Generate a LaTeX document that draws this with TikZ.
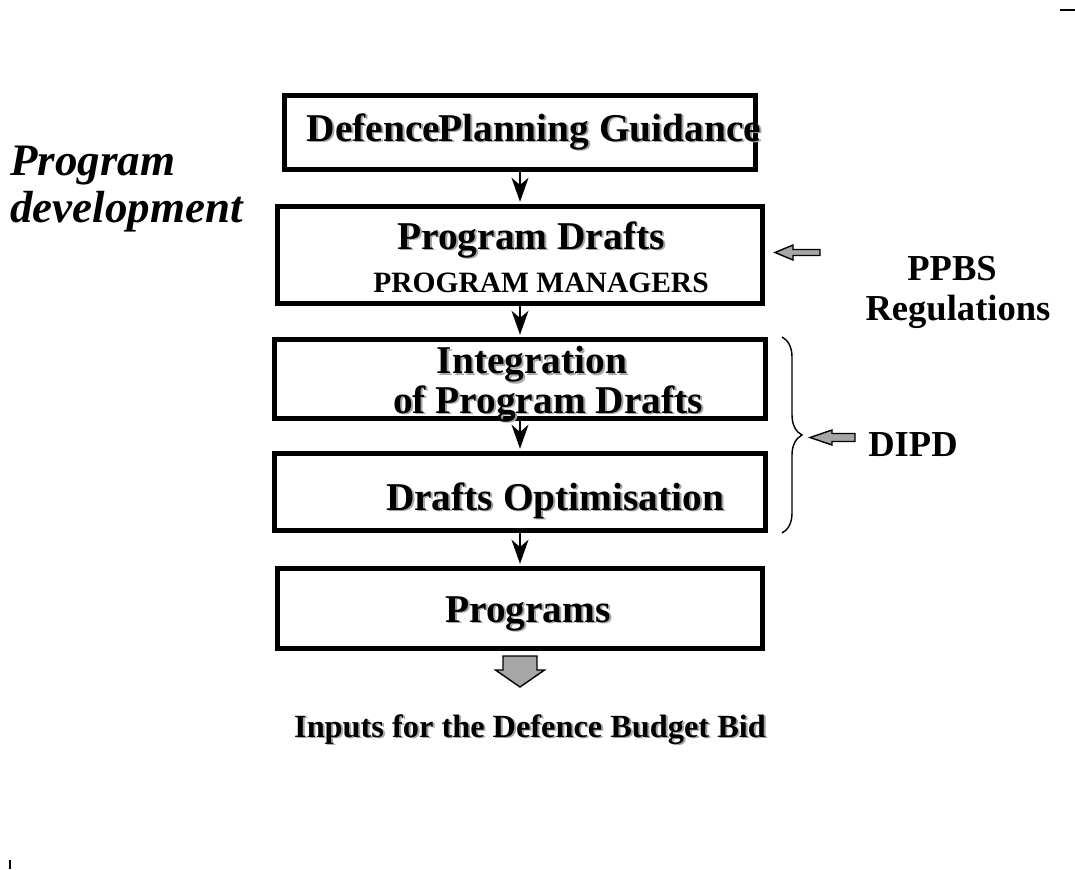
\documentclass[tikz,border=0pt]{standalone}
\usepackage{fontspec}
\setmainfont{Liberation Serif}
\usetikzlibrary{arrows.meta,decorations.pathreplacing}
\newcommand{\shadowed}[1]{\leavevmode\rlap{\hspace{1.4pt}\raisebox{-1.4pt}{\textcolor{black!35}{#1}}}#1}
\tikzset{
  stagebox/.style={draw=black, line width=3.5pt, inner sep=0pt},
  flow/.style={-{Stealth[length=17pt,width=12pt,inset=5pt]}, line width=1.4pt,
    shorten >=1.6pt},
  boxtext/.style={font=\fontsize{28}{32}\selectfont\bfseries, anchor=base, inner sep=0pt},
  smalltext/.style={font=\fontsize{21}{24}\selectfont\bfseries, anchor=base, inner sep=0pt},
  sidetext/.style={font=\fontsize{26}{30}\selectfont\bfseries, anchor=base, inner sep=0pt},
  phase/.style={font=\fontsize{32}{33.4}\selectfont\bfseries\itshape, align=left,
    anchor=base west, inner sep=0pt},
  fatarrow/.style={draw=black, line width=1pt, fill=black!35, line join=miter},
  bracket/.style={decorate, decoration={brace, amplitude=0.5cm}, line width=1pt}
}

\begin{document}
\begin{tikzpicture}[x=0.025cm, y=-0.025cm]
  \useasboundingbox (0,0) rectangle (1075,869);

  \node[phase] (phase) at (10,222) {Program\\development};

  % stages
  \node[stagebox, minimum width=11.75cm, minimum height=1.85cm] (box1) at (520,132.5) {};
  \node[stagebox, minimum width=12.1cm, minimum height=2.425cm] (box2) at (520,255) {};
  \node[stagebox, minimum width=12.25cm, minimum height=1.975cm] (box3) at (520,379) {};
  \node[stagebox, minimum width=12.25cm, minimum height=1.925cm] (box4) at (520,492) {};
  \node[stagebox, minimum width=12.125cm, minimum height=2cm] (box5) at (520,608.5) {};

  \node[boxtext] (guidance) at (534,141) {\shadowed{Defence\hspace{-0.3em} Planning Guidance}};
  \node[boxtext] (drafts) at (531,249) {\shadowed{Program Drafts}};
  \node[smalltext] (managers) at (541,292) {PROGRAM MANAGERS};
  \node[boxtext] (integ) at (532,373.5) {\shadowed{Integration}};
  \node[boxtext] (integb) at (548,413) {\shadowed{of Program Drafts}};
  \node[boxtext] (optim) at (555,510) {\shadowed{Drafts Optimisation}};
  \node[boxtext] (programs) at (528,622) {\shadowed{Programs}};

  \draw[flow] (box1) -- (box2);
  \draw[flow] (box2) -- (box3);
  \draw[flow] (box3) -- (box4);
  \draw[flow] (box4) -- (box5);

  % output
  \coordinate (outtip) at (520,687);
  \draw[fatarrow] (outtip) -- ++(-24.5,-17) -- ++(7.5,0) -- ++(0,-14) -- ++(34,0)
    -- ++(0,14) -- ++(7.5,0) -- cycle;
  \node[font=\fontsize{23}{26}\selectfont\bfseries, anchor=base, inner sep=0pt] (bid)
    at (530,737) {\shadowed{Inputs for the Defence Budget Bid}};

  % regulations
  \coordinate (ppbstip) at (775,252.5);
  \draw[fatarrow] (ppbstip) -- ++(18,-7.5) -- ++(0,4.5) -- ++(27,0) -- ++(0,6)
    -- ++(-27,0) -- ++(0,4.5) -- cycle;
  \node[sidetext] (ppbs) at (952,280) {PPBS};
  \node[sidetext] (regs) at (958,320) {Regulations};

  % dipd
  \coordinate (bracetop) at (782,337);
  \coordinate (bracebot) at (782,533);
  \draw[bracket] (bracetop) -- (bracebot);
  \coordinate (dipdtip) at (810,437.5);
  \draw[fatarrow] (dipdtip) -- ++(22,-7.5) -- ++(0,3.5) -- ++(23,0) -- ++(0,8)
    -- ++(-23,0) -- ++(0,3.5) -- cycle;
  \node[sidetext] (dipd) at (913,456) {DIPD};

  % crop marks
  \draw[line width=1.5pt] (1060,10) -- (1075,10);
  \draw[line width=2pt] (10,860) -- (10,869);
\end{tikzpicture}
\end{document}
